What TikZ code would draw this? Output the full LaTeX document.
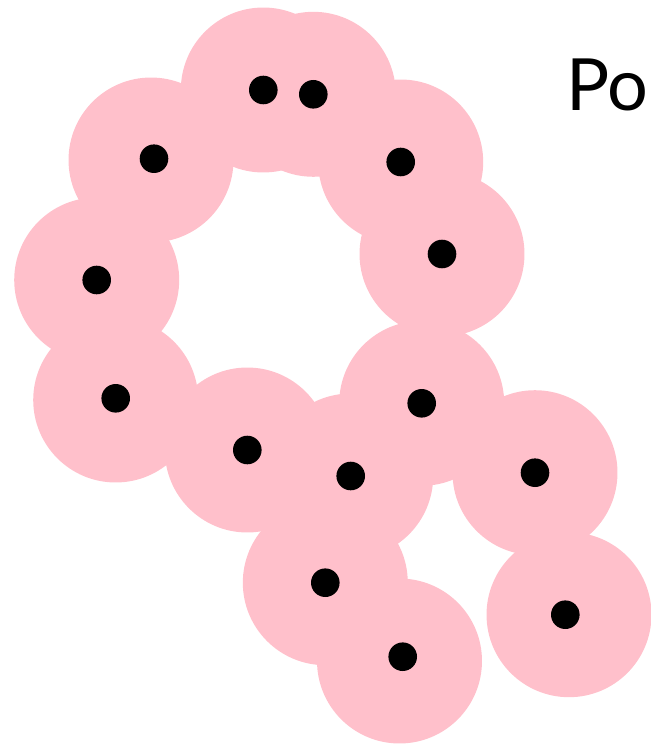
\documentclass[tikz,border=0pt]{standalone}
\usepackage{fontspec}
\setmainfont{Lato}
\usepackage{tikz}
\usetikzlibrary{positioning}
\definecolor{BallPink}{HTML}{FFC0CB}
\definecolor{SiteBlack}{HTML}{000000}
\tikzset{
  % Ball around each point
  ball/.style={circle,fill=BallPink,draw=none,inner sep=0pt,
               minimum size=3.3cm},
  % Data point
  site/.style={circle,fill=SiteBlack,draw=none,inner sep=0pt,
               minimum size=0.572cm},
  % Title text
  lbl/.style={font=\fontsize{41}{41}\selectfont,inner sep=0pt,text=black}
}
\begin{document}
\begin{tikzpicture}[x=0.02cm,y=-0.02cm]
  \useasboundingbox (0,0) rectangle (651,746);

  % --- balls (drawn first, all under the points) ---
  \foreach \n/\px/\py in {1/263.3/90,2/313.3/94.3,3/151/160,4/400.7/162,
                          5/96.7/280,6/442/254,7/115.7/400,8/421.7/403.3,
                          9/247.3/450,10/350.7/476,11/535/472.7,12/325.3/582.7,
                          13/569/614.7,14/399.5/661}
    \node[ball] (b\n) at (\px,\py) {};

  % --- points ---
  \foreach \n/\px/\py in {1/263.3/90,2/313.3/94.3,3/154/158.7,4/400.7/162,
                          5/96.7/280,6/442/254,7/115.7/398.3,8/421.7/403.3,
                          9/247.3/450,10/350.7/476,11/535/472.7,12/325.3/582.7,
                          13/565.3/614.7,14/402.7/656.7}
    \node[site] (s\n) at (\px,\py) {};

  \node[lbl,anchor=base west] (title) at (566,110.7) {Po};
\end{tikzpicture}
\end{document}
